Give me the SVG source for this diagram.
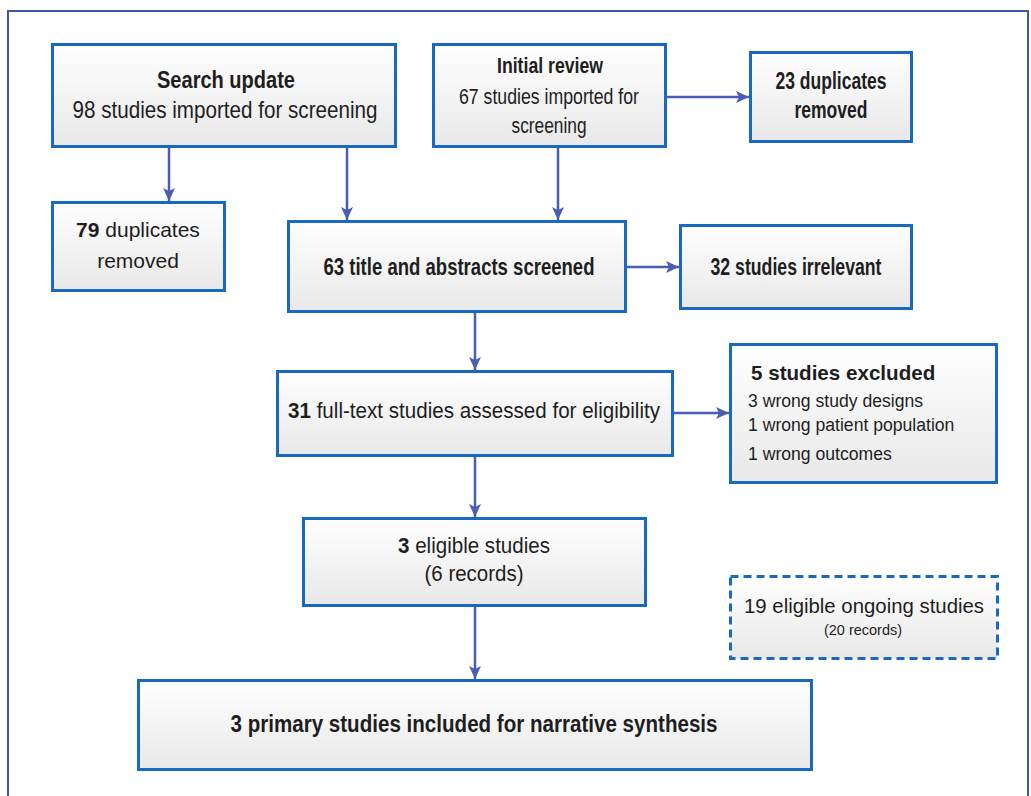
<svg xmlns="http://www.w3.org/2000/svg" width="1031" height="796" viewBox="0 0 1031 796">
<defs>
<linearGradient id="g" x1="0" y1="0" x2="0" y2="1">
<stop offset="0" stop-color="#ffffff"/>
<stop offset="1" stop-color="#e8e8e8"/>
</linearGradient>
<marker id="ah" markerUnits="userSpaceOnUse" markerWidth="14" markerHeight="12" refX="13" refY="6" orient="auto">
<path d="M0,0 L13,6 L0,12 L3,6 Z" fill="#4a5db0"/>
</marker>
<style>
.box{fill:url(#g);stroke:#1a69c0;stroke-width:3}
.dash{fill:url(#g);stroke:#1a69c0;stroke-width:3;stroke-dasharray:8 5}
.t{font-family:"Liberation Sans",Arial,sans-serif;fill:#1e1e1e;text-anchor:middle}
.l{font-family:"Liberation Sans",Arial,sans-serif;fill:#1e1e1e}
.b{font-weight:bold}
.c line{stroke:#4a5db0;stroke-width:2.5;marker-end:url(#ah)}
</style>
</defs>
<rect width="1031" height="796" fill="#ffffff"/>
<path d="M8,800 L8,11 L1028,11 L1028,800" fill="none" stroke="#3a5ba3" stroke-width="2"/>

<g class="c" id="connectors">
<line x1="169" y1="148" x2="169" y2="201"/>
<line x1="347" y1="148" x2="347" y2="220"/>
<line x1="558" y1="148" x2="558" y2="220"/>
<line x1="667" y1="97" x2="749" y2="97"/>
<line x1="627" y1="267" x2="679" y2="267"/>
<line x1="475" y1="313" x2="475" y2="370"/>
<line x1="674" y1="413" x2="729" y2="413"/>
<line x1="475" y1="457" x2="475" y2="517"/>
<line x1="475" y1="607" x2="475" y2="679"/>
</g>

<g id="search-update">
<rect class="box" x="52.5" y="44.5" width="343" height="102"/>
<text class="t b" x="226" y="88" font-size="24" textLength="138" lengthAdjust="spacingAndGlyphs">Search update</text>
<text class="t" x="225" y="118" font-size="24.5" textLength="305" lengthAdjust="spacingAndGlyphs">98 studies imported for screening</text>
</g>

<g id="duplicates-79">
<rect class="box" x="52.5" y="202.5" width="172" height="88"/>
<text class="t" x="138" y="237" font-size="21"><tspan class="b">79</tspan> duplicates</text>
<text class="t" x="138" y="268" font-size="21">removed</text>
</g>

<g id="initial-review">
<rect class="box" x="433.5" y="44.5" width="232" height="102"/>
<text class="t b" x="550" y="73" font-size="22.5" textLength="106" lengthAdjust="spacingAndGlyphs">Initial review</text>
<text class="t" x="549" y="104" font-size="22.5" textLength="180" lengthAdjust="spacingAndGlyphs">67 studies imported for</text>
<text class="t" x="549" y="133" font-size="22.5" textLength="75" lengthAdjust="spacingAndGlyphs">screening</text>
</g>

<g id="duplicates-23">
<rect class="box" x="750.5" y="52.5" width="161" height="89"/>
<text class="t b" x="831" y="89" font-size="23.5" textLength="111" lengthAdjust="spacingAndGlyphs">23 duplicates</text>
<text class="t b" x="831" y="118" font-size="23.5" textLength="73" lengthAdjust="spacingAndGlyphs">removed</text>
</g>

<g id="screened-63">
<rect class="box" x="288.5" y="221.5" width="337" height="90"/>
<text class="t b" x="459" y="275" font-size="24.5" textLength="271" lengthAdjust="spacingAndGlyphs">63 title and abstracts screened</text>
</g>

<g id="irrelevant-32">
<rect class="box" x="680.5" y="225.5" width="231" height="83"/>
<text class="t b" x="796" y="275" font-size="24" textLength="171" lengthAdjust="spacingAndGlyphs">32 studies irrelevant</text>
</g>

<g id="fulltext-31">
<rect class="box" x="277.5" y="371.5" width="395" height="84"/>
<text class="t" x="474" y="418" font-size="22" textLength="372" lengthAdjust="spacingAndGlyphs"><tspan class="b">31</tspan> full-text studies assessed for eligibility</text>
</g>

<g id="excluded-5">
<rect class="box" x="730.5" y="344.5" width="266" height="138"/>
<text class="l b" x="751" y="380" font-size="20.6">5 studies excluded</text>
<text class="l" x="748" y="407" font-size="17.6">3 wrong study designs</text>
<text class="l" x="748" y="431" font-size="17.6">1 wrong patient population</text>
<text class="l" x="748" y="460" font-size="17.6">1 wrong outcomes</text>
</g>

<g id="eligible-3">
<rect class="box" x="303.5" y="518.5" width="342" height="87"/>
<text class="t" x="474" y="553" font-size="22.5" textLength="152" lengthAdjust="spacingAndGlyphs"><tspan class="b">3</tspan> eligible studies</text>
<text class="t" x="474" y="581" font-size="22.5" textLength="99" lengthAdjust="spacingAndGlyphs">(6 records)</text>
</g>

<g id="ongoing-19">
<rect class="dash" x="730.5" y="576.5" width="267" height="82"/>
<text class="t" x="864" y="613" font-size="20" textLength="240" lengthAdjust="spacingAndGlyphs">19 eligible ongoing studies</text>
<text class="t" x="863" y="635" font-size="14.5" textLength="78" lengthAdjust="spacingAndGlyphs">(20 records)</text>
</g>

<g id="primary-3">
<rect class="box" x="138.5" y="680.5" width="673" height="89"/>
<text class="t b" x="474" y="732" font-size="23.5" textLength="487" lengthAdjust="spacingAndGlyphs">3 primary studies included for narrative synthesis</text>
</g>
</svg>
